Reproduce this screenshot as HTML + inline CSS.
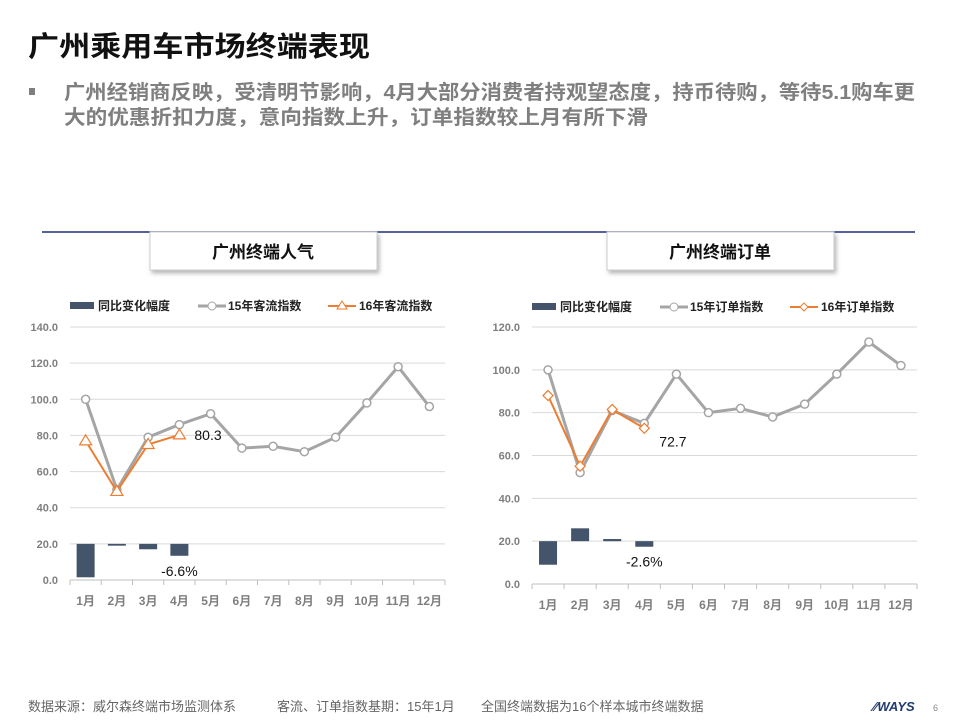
<!DOCTYPE html>
<html><head><meta charset="utf-8">
<style>
body{margin:0;width:960px;height:720px;background:#fff;overflow:hidden;font-family:"Liberation Sans","Noto Sans CJK SC",sans-serif;}
svg text{font-family:"Liberation Sans","Noto Sans CJK SC",sans-serif;}
</style></head><body>
<svg id="s" width="960" height="720" viewBox="0 0 960 720">
<defs><filter id="sh" x="-10%" y="-20%" width="130%" height="160%"><feDropShadow dx="2" dy="3" stdDeviation="2" flood-color="#888" flood-opacity="0.6"/></filter></defs>
<text x="28" y="56" font-size="28" font-weight="bold" fill="#111" textLength="342" lengthAdjust="spacingAndGlyphs">广州乘用车市场终端表现</text>
<rect x="29" y="88" width="6" height="7" fill="#7f7f7f"/>
<text x="64" y="99" font-size="20" font-weight="bold" fill="#7f7f7f" textLength="851" lengthAdjust="spacingAndGlyphs">广州经销商反映，受清明节影响，4月大部分消费者持观望态度，持币待购，等待5.1购车更</text>
<text x="64" y="124" font-size="20" font-weight="bold" fill="#7f7f7f" textLength="584" lengthAdjust="spacingAndGlyphs">大的优惠折扣力度，意向指数上升，订单指数较上月有所下滑</text>
<line x1="42" y1="232" x2="915" y2="232" stroke="#1f2d7a" stroke-width="1.5"/>
<rect x="150" y="232" width="227" height="38" fill="#fff" stroke="#ccc" filter="url(#sh)"/>
<text x="263" y="258" font-size="17" font-weight="bold" text-anchor="middle" fill="#111">广州终端人气</text>
<rect x="607" y="232" width="227" height="38" fill="#fff" stroke="#ccc" filter="url(#sh)"/>
<text x="720" y="258" font-size="17" font-weight="bold" text-anchor="middle" fill="#111">广州终端订单</text>
<g id="c1"></g><g id="c2"></g>
<text x="28" y="711" font-size="13" fill="#666">数据来源：威尔森终端市场监测体系</text>
<text x="277" y="711" font-size="13" fill="#666">客流、订单指数基期：15年1月</text>
<text x="481" y="711" font-size="13" fill="#666">全国终端数据为16个样本城市终端数据</text>
<text x="873" y="711" font-size="13" font-weight="bold" font-style="italic" fill="#1f3a6e">⁄⁄WAYS</text>
<text x="933" y="711" font-size="9" fill="#888">6</text>
</svg>
<script>
const months=["1月","2月","3月","4月","5月","6月","7月","8月","9月","10月","11月","12月"];
const flow15=[100,50,79,86,92,73,74,71,79,98,118,96];
const flow16=[77,49,75,80.3];
const flowChange=[-18.5,-1,-3,-6.6];
const flowTicks=[0,20,40,60,80,100,120,140];
const order15=[100,52,81,75,98,80,82,78,84,98,113,102];
const order16=[88,55,81.5,72.7];
const orderChange=[-11,6,1,-2.6];
const orderTicks=[0,20,40,60,80,100,120];
const NS="http://www.w3.org/2000/svg";
function mk(p,t,a){const e=document.createElementNS(NS,t);for(const k in a)e.setAttribute(k,a[k]);p.appendChild(e);return e;}
function chart(g,o){
 const x=i=>o.x0+(i+0.5)*(o.x1-o.x0)/12;
 const y=v=>o.y0-(v/o.max)*(o.y0-o.y1);
 o.ticks.forEach(t=>{
  const l=mk(g,'line',{x1:o.x0,x2:o.x1,y1:y(t),y2:y(t),stroke:t?'#d9d9d9':'#bfbfbf'});
  
  
  const tx=mk(g,'text',{x:o.x0-12,y:y(t)+4,'font-size':11,'font-weight':'bold',fill:'#7f7f7f','text-anchor':'end'});tx.textContent=t.toFixed(1);
  
  
 });
 const step=(o.x1-o.x0)/12;
 for(let i=0;i<=12;i++){const tk=mk(g,'line',{x1:o.x0+i*step,x2:o.x0+i*step,y1:o.y0,y2:o.y0+5,stroke:'#bfbfbf'});
  
  }
 months.forEach((m,i)=>{const t=mk(g,'text',{x:x(i),y:o.y0+25,'font-size':12,'font-weight':'bold',fill:'#7f7f7f','text-anchor':'middle'});t.textContent=m;
  
  });
 o.change.forEach((c,i)=>{const a=y(20),b=y(20+c);const r=mk(g,'rect',{x:x(i)-9,width:18,y:Math.min(a,b),height:Math.max(1.5,Math.abs(a-b)),fill:'#44546a'});
  
  });
 const ci=o.change.length-1;
 const cl=mk(g,'text',{x:x(ci),y:y(20+Math.min(0,o.change[ci]))+20,'font-size':14,fill:'#111','text-anchor':'middle'});cl.textContent=o.change[ci].toFixed(1)+'%';
 
 
 const p1=mk(g,'polyline',{points:o.s15.map((v,i)=>x(i)+','+y(v)).join(' '),fill:'none',stroke:'#a5a5a5','stroke-width':3});
 
 
 o.s15.forEach((v,i)=>{const c=mk(g,'circle',{cx:x(i),cy:y(v),r:4,fill:'#fff',stroke:'#a5a5a5','stroke-width':1.5});
  
  });
 const p2=mk(g,'polyline',{points:o.s16.map((v,i)=>x(i)+','+y(v)).join(' '),fill:'none',stroke:'#ed7d31','stroke-width':2});
 
 
 o.s16.forEach((v,i)=>{let m;const cx=x(i),cy=y(v);
  if(o.tri)m=mk(g,'polygon',{points:`${cx},${cy-6} ${cx+6},${cy+4} ${cx-6},${cy+4}`,fill:'#fff',stroke:'#ed7d31','stroke-width':1.2});
  else m=mk(g,'polygon',{points:`${cx},${cy-5} ${cx+5},${cy} ${cx},${cy+5} ${cx-5},${cy}`,fill:'#fff',stroke:'#ed7d31','stroke-width':1.2});
  
  });
 const li=o.s16.length-1;
 const vl=mk(g,'text',{x:x(li)+15,y:y(o.s16[li])+o.lblDy,'font-size':14,fill:'#111'});vl.textContent=o.s16[li];
 
 
 const ly=o.ly,lx=o.lx;
 const lb=mk(g,'rect',{x:lx,y:ly-4,width:24,height:7,fill:'#44546a'});
 
 
 const t1=mk(g,'text',{x:lx+28,y:ly+4,'font-size':12,'font-weight':'bold',fill:'#222'});t1.textContent='同比变化幅度';
 
 
 const l2=mk(g,'line',{x1:lx+128,x2:lx+156,y1:ly,y2:ly,stroke:'#a5a5a5','stroke-width':3});
 
 
 const c2=mk(g,'circle',{cx:lx+142,cy:ly,r:4,fill:'#fff',stroke:'#a5a5a5'});
 
 
 const t2=mk(g,'text',{x:lx+158,y:ly+4,'font-size':12,'font-weight':'bold',fill:'#222'});t2.textContent=o.n15;
 
 
 const l3=mk(g,'line',{x1:lx+258,x2:lx+286,y1:ly,y2:ly,stroke:'#ed7d31','stroke-width':2});
 
 
 const cx=lx+272;const m3=o.tri?mk(g,'polygon',{points:`${cx},${ly-5} ${cx+5},${ly+3} ${cx-5},${ly+3}`,fill:'#fff',stroke:'#ed7d31'}):mk(g,'polygon',{points:`${cx},${ly-4} ${cx+4},${ly} ${cx},${ly+4} ${cx-4},${ly}`,fill:'#fff',stroke:'#ed7d31'});
 
 
 const t3=mk(g,'text',{x:lx+289,y:ly+4,'font-size':12,'font-weight':'bold',fill:'#222'});t3.textContent=o.n16;
 
 
}
chart(document.getElementById('c1'),{x0:70,x1:445,y0:580,y1:327,max:140,ticks:flowTicks,s15:flow15,s16:flow16,change:flowChange,tri:true,lblDy:5,lx:70,ly:306,n15:'15年客流指数',n16:'16年客流指数'});
chart(document.getElementById('c2'),{x0:532,x1:917,y0:584,y1:327,max:120,ticks:orderTicks,s15:order15,s16:order16,change:orderChange,tri:false,lblDy:18,lx:532,ly:307,n15:'15年订单指数',n16:'16年订单指数'});
</script>
</body></html>
